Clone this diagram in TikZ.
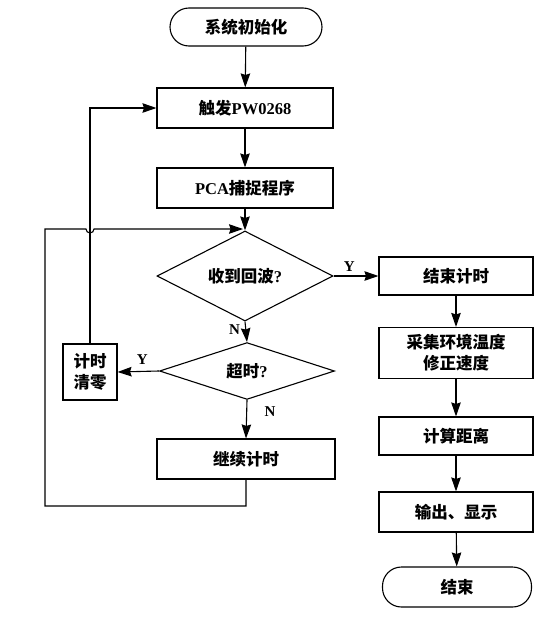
\documentclass[tikz,border=0pt]{standalone}
\usepackage{fontspec}
\usepackage{tikz}
\usetikzlibrary{arrows.meta,shapes.geometric}
\setmainfont{Liberation Serif}
\newfontfamily\cjk{Noto Sans CJK SC}
\newcommand{\zh}[1]{{\cjk #1}}

\begin{document}
\begin{tikzpicture}[>={Stealth[length=14pt,width=9.5pt,inset=1.5pt]},->,x=1pt,y=-1pt,line width=1.1pt,
                    font=\fontsize{16.5}{21}\selectfont\bfseries,
                    proc/.style={draw,rectangle,align=center,minimum height=40pt},
                    term/.style={draw,rectangle,rounded corners=19pt,minimum height=40pt},
                    test/.style={draw,diamond,inner sep=0pt},
                    lbl/.style={font=\fontsize{15}{17}\selectfont\bfseries}]
  \useasboundingbox (0,0) rectangle (556,621);

  \path   (246, 27) node (init)    [term,minimum width=152pt,minimum height=38pt] {\zh{系统初始化}}
          (245,108) node (trig)    [proc,minimum width=176pt] {\zh{触发}PW0268}
          (245,188) node (pca)     [proc,minimum width=176pt] {PCA\zh{捕捉程序}}
          (245,276) node (echo)    [test,minimum width=176pt,minimum height=55pt] {\zh{收到回波}?}
          (247,371) node (timeout) [test,minimum width=175pt,minimum height=46pt] {\zh{超时}?}
          ( 90,372) node (clear)   [proc,minimum width=54pt,minimum height=56pt,
                                    inner sep=1pt] {\zh{计时}\\\zh{清零}}
          (246,459) node (cont)    [proc,minimum width=178pt] {\zh{继续计时}};

  \path   (456,276) node (stop)    [proc,minimum width=154pt,minimum height=38pt] {\zh{结束计时}}
          (456,353) node (temp)    [proc,minimum width=154pt,minimum height=51pt] {\zh{采集环境温度}\\\zh{修正速度}}
          (456,436) node (dist)    [proc,minimum width=154pt,minimum height=38pt] {\zh{计算距离}}
          (456,512) node (show)    [proc,minimum width=154pt] {\zh{输出、显示}}
          (457,587) node (finish)  [term,minimum width=149pt] {\zh{结束}};

  \coordinate (merge) at (247,229);
  \coordinate (loopbl) at (45,506);

  \path (init)  edge (trig)
        (trig)  edge (pca)
        (pca)   edge (echo)

        (echo.east)    edge node[lbl,above=1pt,pos=.35] {Y} (stop.west)
        (echo.south)   edge node[lbl,left=2pt,pos=.4]  {N} (timeout.north)
        (timeout.west) edge node[lbl,above=3pt,pos=.4] {Y} (clear.east)
        (timeout.south) edge node[lbl,right=14pt,pos=.3] {N} (cont.north)

        (stop)  edge (temp)
        (temp)  edge (dist)
        (dist)  edge (show)
        (show)  edge (finish);

  % timeout loops
  \draw (clear.north) -- (clear.north |- trig.west) -- (trig.west);
  \draw (cont.south) -- (cont.south |- loopbl) -- (loopbl) -- (loopbl |- merge)
        -- (86,229) arc (180:0:4) -- ([xshift=-4pt]merge);
\end{tikzpicture}
\end{document}
